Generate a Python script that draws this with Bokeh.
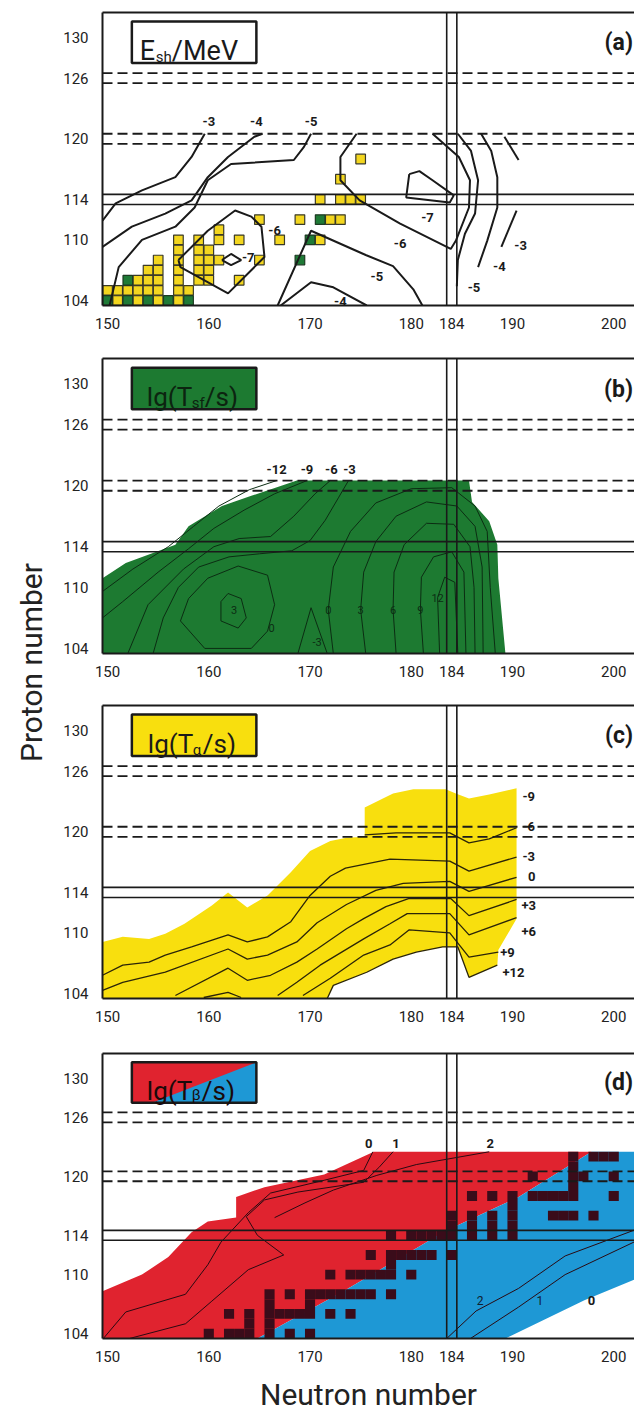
from bokeh.plotting import figure
from bokeh.models import (FixedTicker, LinearAxis, Span, Label, ColumnDataSource,
                          BoxAnnotation, PolyAnnotation)
from bokeh.layouts import row, column
from bokeh.embed import file_html
from bokeh.resources import INLINE
from bokeh.core.properties import value

FONT = "Roboto"

# ---------------- axes / shells ----------------
X_TICKS = [150, 160, 170, 180, 184, 190, 200]
Y_TICKS = [104, 110, 114, 120, 126, 130]
MAGIC_N = [184]
MAGIC_Z_SOLID = [114]
MAGIC_Z_DASHED = [120, 126]

# ---------------- panel (a): shell correction energy ----------------
A_YELLOW_N = [151, 153, 155, 157,
              150, 151, 152, 153, 154, 155, 157, 158,
              153, 154, 155, 157, 159, 160, 163,
              154, 155, 157, 159, 160,
              155, 157, 159, 160, 161, 165,
              157, 159, 160,
              157, 159, 161, 163, 167, 171,
              161,
              165, 169, 172, 173,
              171, 173, 174, 175,
              173, 175]
A_YELLOW_Z = [104, 104, 104, 104,
              105, 105, 105, 105, 105, 105, 105, 105,
              106, 106, 106, 106, 106, 106, 106,
              107, 107, 107, 107, 107,
              108, 108, 108, 108, 108, 108,
              109, 109, 109,
              110, 110, 110, 110, 110, 110,
              111,
              112, 112, 112, 112,
              114, 114, 114, 114,
              116, 118]
A_GREEN_N = [150, 152, 154, 156, 158, 152, 169, 170, 171]
A_GREEN_Z = [104, 104, 104, 104, 104, 106, 108, 110, 112]

A_CONT_N = [
    [149.5, 150.8, 153.4, 156.7, 158.3, 159.6],
    [149.5, 152.4, 155.7, 158.3, 159.9, 161.9, 164.5, 165.3],
    [150.2, 151.1, 153.4, 156.7, 158.6, 159.9, 162.2, 168.4, 169.4, 170.1],
    [157.0, 159.9, 162.6, 164.2, 165.2, 165.5, 161.9, 157.2, 157.0],
    [161.3, 162.2, 163.2, 162.2, 161.3],
    [166.8, 170.1, 175.5, 178.2, 180.2, 181.1],
    [167.1, 170.1, 172.3, 175.6],
    [174.6, 173.0, 173.0, 174.9, 178.9, 183.9, 184.4, 185.7, 185.8, 184.7, 182.1],
    [179.8, 179.5, 183.8, 184.2, 182.1, 180.8, 179.8],
    [184.6, 185.9, 186.6, 186.3, 185.3, 184.6, 184.5],
    [186.9, 187.9, 188.5, 188.5, 187.5, 186.6],
    [189.2, 190.6],
    [190.4, 188.9],
]
A_CONT_Z = [
    [111.9, 113.6, 114.9, 116.2, 118.2, 120.5],
    [109.3, 111.3, 112.6, 113.9, 116.2, 118.2, 120.2, 120.5],
    [103.5, 107.3, 110.0, 111.3, 113.2, 115.9, 117.5, 117.9, 119.2, 120.5],
    [108.0, 110.9, 112.9, 112.3, 111.3, 108.3, 104.7, 107.3, 108.0],
    [108.0, 108.6, 108.0, 107.5, 108.0],
    [103.5, 110.9, 108.5, 107.4, 105.1, 103.5],
    [103.5, 105.8, 105.3, 103.5],
    [120.5, 118.2, 115.9, 113.9, 111.6, 109.1, 109.9, 113.2, 115.9, 118.2, 120.5],
    [116.5, 114.2, 113.7, 114.4, 115.9, 116.8, 116.5],
    [120.5, 118.8, 115.9, 112.6, 110.6, 108.0, 105.4],
    [120.5, 118.8, 116.2, 113.2, 109.9, 107.3],
    [120.2, 117.9],
    [112.9, 109.3],
]
A_LBL_TEXT = ["-3", "-4", "-5", "-6", "-7", "-6", "-7", "-5", "-4", "-5", "-4", "-3"]
A_LBL_N = [160.0, 164.7, 170.1, 166.5, 163.9, 178.9, 181.6, 176.6, 173.0, 186.2, 188.7, 190.8]
A_LBL_Z = [121.7, 121.7, 121.7, 110.9, 108.3, 109.6, 112.2, 106.4, 103.9, 105.3, 107.4, 109.4]

# ---------------- panel (b): spontaneous fission ----------------
B_REGION_N = [149.5, 149.5, 151.8, 156.7, 158.0, 161.3, 164.2, 168.7, 185.7, 186.0, 187.7, 188.5, 188.6, 189.3]
B_REGION_Z = [103.5, 110.9, 112.4, 114.2, 116.0, 118.0, 119.0, 120.5, 120.5, 118.4, 116.5, 114.2, 110.9, 103.5]
B_CONT_N = [
    [166.7, 164.0, 161.0, 158.5, 156.0, 152.5, 149.5],
    [169.7, 166.5, 163.5, 160.5, 158.0, 155.0, 151.5, 149.5],
    [172.0, 170.5, 168.4, 166.1, 163.0, 160.5, 157.5, 154.0, 152.0],
    [173.8, 172.8, 171.5, 170.0, 168.2, 165.0, 162.0, 159.0, 157.0, 155.5, 154.5],
    [157.2, 158.0, 159.9, 162.9, 165.8, 166.5, 165.8, 164.2, 159.6, 157.2],
    [161.2, 161.9, 163.2, 163.7, 162.9, 161.2, 161.2],
    [168.8, 170.1, 171.7],
    [172.3, 171.8, 172.3, 174.0, 176.5, 180.0, 184.0, 186.3, 187.5, 187.8, 188.3],
    [175.5, 175.0, 175.3, 176.5, 178.5, 181.5, 184.5, 186.3, 187.0, 187.1],
    [178.5, 178.2, 178.3, 179.3, 181.5, 184.2, 185.8, 186.2, 186.3],
    [181.2, 180.9, 181.0, 182.2, 184.0, 185.2, 185.4],
    [182.8, 182.6, 183.3, 184.3, 184.6],
]
B_CONT_Z = [
    [120.5, 119.6, 118.0, 116.0, 114.0, 111.8, 109.6],
    [120.5, 119.2, 117.6, 115.8, 113.8, 111.5, 108.6, 107.0],
    [120.5, 119.2, 117.0, 115.0, 114.8, 114.0, 111.8, 108.3, 103.5],
    [120.5, 118.8, 116.6, 114.6, 113.6, 113.3, 113.0, 112.0, 110.0, 107.0, 103.5],
    [106.7, 108.9, 110.9, 112.1, 111.2, 108.3, 105.7, 104.0, 104.0, 106.7],
    [108.6, 109.4, 108.9, 107.0, 106.0, 106.7, 108.6],
    [103.5, 108.0, 103.5],
    [103.5, 107.8, 112.0, 115.5, 118.3, 119.7, 119.8, 118.0, 115.5, 110.0, 103.5],
    [103.5, 107.8, 111.5, 114.5, 117.0, 118.4, 118.0, 116.0, 112.0, 103.5],
    [103.5, 107.8, 111.5, 114.2, 116.3, 116.2, 114.0, 110.0, 103.5],
    [103.5, 107.8, 111.0, 113.0, 113.5, 111.5, 103.5],
    [103.5, 109.0, 111.0, 110.5, 103.5],
]
B_TOP_TEXT = ["-12", "-9", "-6", "-3"]
B_TOP_N = [166.7, 169.7, 172.1, 173.9]
B_TOP_Z = [121.6, 121.6, 121.6, 121.6]
B_IN_TEXT = ["3", "0", "-3", "0", "3", "6", "9", "12"]
B_IN_N = [162.5, 166.2, 170.7, 171.8, 175.0, 178.2, 180.9, 182.6]
B_IN_Z = [107.8, 106.0, 104.6, 107.8, 107.8, 107.8, 107.8, 109.0]

# ---------------- panel (c): alpha decay ----------------
C_REGION_N = [149.5, 151.5, 154.1, 155.7, 157.6, 160.3, 161.9, 163.8, 165.8, 168.1, 170.0, 172.0, 173.6,
              175.4, 175.4, 178.2, 180.2, 183.4, 184.4, 185.7, 187.7, 190.4, 190.4, 188.6, 188.5,
              185.7, 184.6, 183.1, 180.5, 178.2, 175.6, 172.3, 171.7, 149.5]
C_REGION_Z = [109.1, 109.6, 109.4, 109.9, 110.9, 112.7, 114.0, 112.5, 113.7, 116.0, 118.1, 119.1, 119.4,
              119.5, 122.4, 123.8, 124.2, 124.2, 123.8, 123.3, 123.7, 124.3, 111.4, 108.3, 106.8,
              105.6, 108.6, 108.6, 108.1, 107.4, 106.1, 104.8, 103.5, 103.5]
C_CONT_N = [
    [175.4, 178.5, 183.8, 185.7, 187.7, 190.4],
    [149.5, 151.5, 154.1, 155.7, 158.3, 161.9, 163.8, 165.8, 168.1, 170.0, 172.0, 173.5, 177.9, 183.8, 185.7, 190.4],
    [149.5, 151.5, 155.7, 161.9, 163.8, 165.8, 168.7, 170.7, 173.6, 176.5, 179.2, 183.8, 185.7, 190.4],
    [156.7, 161.9, 163.8, 166.1, 168.7, 170.7, 173.6, 175.3, 177.5, 179.8, 183.9, 185.7, 190.4],
    [166.8, 168.7, 171.0, 175.3, 177.9, 179.6, 183.8, 185.7, 190.4],
    [159.5, 161.9, 163.2],
    [169.3, 172.0, 175.3, 177.9, 179.8, 183.8, 185.7, 188.6],
    [171.7, 172.3, 175.6, 178.2, 180.5, 183.1, 184.6, 185.7, 188.5],
]
C_CONT_Z = [
    [119.7, 119.9, 119.9, 118.9, 119.3, 120.4],
    [105.8, 106.8, 107.1, 107.8, 108.6, 109.8, 109.1, 109.6, 111.1, 113.7, 115.6, 116.4, 117.3, 117.1, 116.1, 117.5],
    [104.3, 105.1, 106.1, 108.4, 107.4, 107.8, 109.1, 111.0, 112.8, 114.2, 114.9, 115.1, 114.1, 115.5],
    [103.8, 106.5, 105.3, 105.8, 107.1, 108.4, 110.4, 111.4, 112.6, 113.4, 113.4, 111.7, 113.3],
    [103.8, 105.1, 106.8, 109.4, 110.9, 111.9, 111.9, 109.8, 111.5],
    [103.6, 104.1, 103.6],
    [103.8, 105.5, 107.8, 108.8, 110.3, 110.0, 107.6, 108.1],
    [103.5, 104.8, 106.1, 107.4, 108.1, 108.6, 108.6, 105.6, 106.8],
]
C_LBL_TEXT = ["-9", "-6", "-3", "0", "+3", "+6", "+9", "+12"]
C_LBL_N = [191.6, 191.6, 191.6, 191.9, 191.6, 191.6, 189.5, 190.1]
C_LBL_Z = [123.5, 120.5, 117.6, 115.6, 112.7, 110.1, 108.1, 106.1]

# ---------------- panel (d): beta decay ----------------
D_RED_N = [149.5, 149.5, 153.4, 156.0, 158.3, 159.9, 162.7, 162.7, 165.5, 171.4, 176.3, 197.8,
           190.6, 183.1, 181.5, 173.3, 164.8]
D_RED_Z = [103.5, 108.3, 110.0, 111.8, 114.3, 115.4, 115.8, 117.9, 118.9, 120.2, 122.5, 122.5,
           117.9, 114.3, 113.3, 108.3, 103.5]
D_BLUE_N = [164.8, 173.3, 181.5, 183.1, 190.6, 197.8, 203.0, 203.0, 197.1, 189.3]
D_BLUE_Z = [103.5, 108.3, 113.3, 114.3, 117.9, 122.5, 122.5, 109.9, 107.4, 103.5]
D_DARK_N = [160, 162, 163, 164, 166, 168, 170,
            164, 166,
            162, 164, 166, 167, 168, 169, 170, 172, 174,
            166, 170,
            166, 168, 170, 171, 172, 173, 174, 175, 176, 178,
            172, 174, 175, 176, 177, 178, 180,
            178,
            176, 178, 179, 180, 181, 182, 184,
            178, 180, 181, 182, 183, 184, 186, 188, 190,
            184, 186, 188, 190,
            184, 186, 188, 190, 194, 195, 196, 198,
            190,
            186, 188, 190, 192, 193, 194, 195, 196, 200,
            196,
            192, 196, 197, 200,
            196,
            196, 198, 199, 200]
D_DARK_Z = [104] * 7 + [105] * 2 + [106] * 9 + [107] * 2 + [108] * 10 + [110] * 7 + [111] * 1 + \
           [112] * 7 + [114] * 9 + [115] * 4 + [116] * 8 + [117] * 1 + [118] * 9 + [119] * 1 + \
           [120] * 4 + [121] * 1 + [122] * 4
D_CONT_N = [
    [149.5, 151.8, 157.7, 159.9, 161.2, 163.9, 166.1, 171.4, 175.3, 176.2],
    [151.8, 157.7, 160.3, 163.9, 167.4, 164.8, 163.7, 165.5, 168.8, 175.3, 176.8, 178.2],
    [166.5, 169.5, 172.3, 176.6, 180.5, 187.7],
    [183.4, 186.4, 190.6, 195.2, 203.0],
    [185.7, 190.6, 195.2, 203.0],
]
D_CONT_Z = [
    [103.4, 106.2, 108.0, 111.0, 113.3, 116.3, 118.3, 119.6, 120.6, 122.5],
    [103.4, 105.0, 107.3, 110.5, 112.0, 114.0, 115.9, 117.6, 118.4, 119.4, 120.9, 122.5],
    [115.8, 117.3, 118.6, 120.1, 121.2, 122.5],
    [103.4, 106.3, 108.6, 111.9, 114.9],
    [103.4, 106.7, 110.0, 113.8],
]
D_TOP_TEXT = ["0", "1", "2"]
D_TOP_N = [175.8, 178.5, 187.8]
D_TOP_Z = [123.3, 123.3, 123.3]
D_IN_TEXT = ["2", "1"]
D_IN_N = [186.8, 192.7]
D_IN_Z = [107.4, 107.4]
D_ZERO_TEXT = ["0"]
D_ZERO_N = [197.8]
D_ZERO_Z = [107.4]

# ---------------- colours ----------------
INK = "#1a1a1a"
SQ_YELLOW = "#f3d61f"
SQ_GREEN = "#1f7a36"
B_GREEN = "#1d7a31"
C_YELLOW = "#f8df0e"
D_RED = "#e0232f"
D_BLUE = "#1e98d5"
D_DARK = "#3a0c1a"

X_RANGE = (149.5, 202.05)
Y_RANGE = (103.5, 132.5)
BOX = dict(left=152.4, right=164.7, bottom=127.5, top=131.6)


def make_panel(height, top, bottom, xlabel=None):
    p = figure(width=574, height=height, x_range=X_RANGE, y_range=Y_RANGE,
               output_backend="svg", toolbar_location=None,
               min_border_left=37, min_border_right=0,
               min_border_top=top, min_border_bottom=bottom)
    p.outline_line_color = None
    p.grid.visible = False
    p.xaxis.ticker = FixedTicker(ticks=X_TICKS)
    p.yaxis.ticker = FixedTicker(ticks=Y_TICKS)
    for ax in (p.xaxis, p.yaxis):
        ax.axis_line_width = 2
        ax.axis_line_color = INK
        ax.major_tick_line_color = None
        ax.minor_tick_line_color = None
        ax.major_label_text_font = FONT
        ax.major_label_text_font_size = "15px"
        ax.major_label_text_color = "#222222"
    p.xaxis.major_label_standoff = 6
    p.yaxis.major_label_standoff = 8
    if xlabel:
        p.xaxis.axis_label = xlabel
        p.xaxis.axis_label_text_font = FONT
        p.xaxis.axis_label_text_font_size = "30px"
        p.xaxis.axis_label_text_font_style = "normal"
        p.xaxis.axis_label_text_color = "#222222"
        p.xaxis.axis_label_standoff = 12
    top_ax = LinearAxis(ticker=FixedTicker(ticks=[]), axis_line_width=2, axis_line_color=INK,
                        major_tick_line_color=None, minor_tick_line_color=None,
                        major_tick_out=0, major_tick_in=0,
                        major_label_text_font_size="0px", major_label_standoff=0)
    p.add_layout(top_ax, "above")
    return p


def shells(p):
    for z in MAGIC_Z_SOLID:
        for d in (-0.5, 0.5):
            p.add_layout(Span(location=z + d, dimension="width", line_color=INK, line_width=1.6))
    for z in MAGIC_Z_DASHED:
        for d in (-0.5, 0.5):
            p.add_layout(Span(location=z + d, dimension="width", line_color=INK, line_width=1.8,
                              line_dash="10 5"))
    for n in MAGIC_N:
        for d in (-0.5, 0.5):
            p.add_layout(Span(location=n + d, dimension="height", line_color=INK, line_width=1.6))


def panel_tag(p, tag):
    p.add_layout(Label(x=201.9, y=129.5, text=tag, text_align="right", text_baseline="middle",
                       text_font=FONT, text_font_size="23px", text_font_style="bold",
                       text_color=INK))


def legend_box(p, fill, parts, color, split_fill=None):
    p.add_layout(BoxAnnotation(fill_color=fill, fill_alpha=1, line_color=None, **BOX))
    if split_fill:
        p.add_layout(PolyAnnotation(xs=[154.4, BOX["right"], BOX["right"]],
                                    ys=[BOX["bottom"], BOX["bottom"], BOX["top"]],
                                    fill_color=split_fill, fill_alpha=1, line_color=None))
    p.add_layout(BoxAnnotation(fill_color=None, fill_alpha=0, line_color=INK, line_alpha=1,
                               line_width=2.5, **BOX))
    for text, size, dx, dy in parts:
        p.add_layout(Label(x=BOX["left"], y=BOX["bottom"], x_offset=dx, y_offset=dy, text=text,
                           text_font=FONT, text_font_size=f"{size}px", text_color=color,
                           text_baseline="alphabetic", text_align="left"))


def labels(p, texts, xs, ys, size="13px", style="bold", color=INK):
    src = ColumnDataSource(dict(x=xs, y=ys, t=texts))
    p.text(x="x", y="y", text="t", source=src, text_align="center", text_baseline="middle",
           text_font=value(FONT), text_font_size=size, text_font_style=style, text_color=color)


# ---------------- panel a ----------------
pa = make_panel(340, 12, 35)
pa.rect(x=A_YELLOW_N, y=A_YELLOW_Z, width=0.95, height=0.95, fill_color=SQ_YELLOW,
        line_color="#3a3a2a", line_width=1.2)
pa.rect(x=A_GREEN_N, y=A_GREEN_Z, width=0.95, height=0.95, fill_color=SQ_GREEN,
        line_color="#1d3a22", line_width=1.2)
pa.multi_line(xs=A_CONT_N, ys=A_CONT_Z, line_color=INK, line_width=2)
labels(pa, A_LBL_TEXT, A_LBL_N, A_LBL_Z)
shells(pa)
legend_box(pa, "white", [("E", 27, 8, 12), ("sh", 15, 24, 6), ("/MeV", 27, 40, 12)], INK)
panel_tag(pa, "(a)")

# ---------------- panel b ----------------
pb = make_panel(348, 18, 35)
pb.patch(x=B_REGION_N, y=B_REGION_Z, fill_color=B_GREEN, line_color=None)
pb.multi_line(xs=B_CONT_N, ys=B_CONT_Z, line_color="#0c2d13", line_width=1)
labels(pb, B_TOP_TEXT, B_TOP_N, B_TOP_Z)
labels(pb, B_IN_TEXT, B_IN_N, B_IN_Z, size="11px", style="normal", color="#0c2d13")
shells(pb)
legend_box(pb, B_GREEN, [("lg(T", 26, 15, 12), ("sf", 15, 60, 6), ("/s)", 26, 73, 12)], "#0c2410")
panel_tag(pb, "(b)")

# ---------------- panel c ----------------
pc = make_panel(345, 17, 35)
pc.patch(x=C_REGION_N, y=C_REGION_Z, fill_color=C_YELLOW, line_color=None)
pc.multi_line(xs=C_CONT_N, ys=C_CONT_Z, line_color="#2b2508", line_width=1.3)
labels(pc, C_LBL_TEXT, C_LBL_N, C_LBL_Z)
shells(pc)
legend_box(pc, C_YELLOW, [("lg(T", 26, 16, 12), ("α", 15, 61, 6), ("/s)", 26, 71, 12)], INK)
panel_tag(pc, "(c)")

# ---------------- panel d ----------------
pd = make_panel(381, 20, 68, xlabel="Neutron number")
pd.patch(x=D_RED_N, y=D_RED_Z, fill_color=D_RED, line_color=None)
pd.patch(x=D_BLUE_N, y=D_BLUE_Z, fill_color=D_BLUE, line_color=None)
pd.rect(x=D_DARK_N, y=D_DARK_Z, width=1, height=1, fill_color=D_DARK, line_color=None)
pd.multi_line(xs=D_CONT_N, ys=D_CONT_Z, line_color="#2a0a12", line_width=1)
labels(pd, D_TOP_TEXT, D_TOP_N, D_TOP_Z)
labels(pd, D_IN_TEXT, D_IN_N, D_IN_Z, size="12px", style="normal", color="#102030")
labels(pd, D_ZERO_TEXT, D_ZERO_N, D_ZERO_Z)
shells(pd)
legend_box(pd, D_RED, [("lg(T", 26, 15, 12), ("β", 15, 60, 8), ("/s)", 26, 70, 12)], "#1a0a0a",
           split_fill=D_BLUE)
panel_tag(pd, "(d)")

# ---------------- left label strip ----------------
TOTAL_H = 340 + 348 + 345 + 381
lf = figure(width=60, height=TOTAL_H, x_range=(0, 60), y_range=(0, TOTAL_H),
            output_backend="svg", toolbar_location=None, min_border=0,
            x_axis_type=None, y_axis_type=None)
lf.outline_line_color = None
lf.grid.visible = False
lf.add_layout(Label(x=31, y=TOTAL_H - 662, text="Proton number", angle=90, angle_units="deg",
                    text_align="center", text_baseline="middle", text_font=FONT,
                    text_font_size="30px", text_color="#222222"))

layout = row(lf, column(pa, pb, pc, pd))
open("out.html", "w").write(file_html(layout, INLINE))
